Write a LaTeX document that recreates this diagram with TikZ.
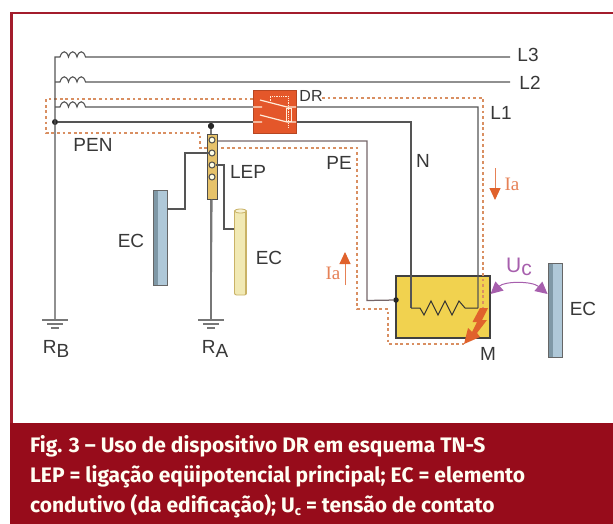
\documentclass[tikz,border=0pt]{standalone}
\usepackage{fontspec}
\setmainfont{Liberation Sans}
\newfontfamily\capfont{Fira Sans}
\newfontfamily\serfont{Liberation Serif}
\usetikzlibrary{arrows.meta,calc}
\definecolor{framered}{HTML}{A31C2C}
\definecolor{capred}{HTML}{970C1B}
\definecolor{wire}{HTML}{555555}
\definecolor{pewire}{HTML}{756669}
\definecolor{orangeE}{HTML}{E0622C}
\definecolor{dotline}{HTML}{D98F62}
\definecolor{drbox}{HTML}{E4572A}
\definecolor{motor}{HTML}{F1D24F}
\definecolor{steel}{HTML}{AFC8D8}
\definecolor{steeldark}{HTML}{7F98A6}
\definecolor{lepfill}{HTML}{E6C26A}
\definecolor{tube}{HTML}{F1E9B4}
\definecolor{tubedark}{HTML}{C9B266}
\definecolor{purp}{HTML}{A75FAD}
\definecolor{ink}{HTML}{383838}
\tikzset{
  x=1pt,y=-1pt,
  wireline/.style={draw=wire,line width=1.1pt},
  gnd/.style={draw=wire!80,line width=1.2pt},
  fault/.style={draw=dotline,line width=2.2pt,dash pattern=on 2.8pt off 2.8pt},
  lab/.style={text=ink,font=\fontsize{19}{19}\selectfont,inner sep=0pt},
  smalllab/.style={text=ink,font=\fontsize{16}{16}\selectfont,inner sep=0pt},
  curlab/.style={text=orangeE!80!white,font=\serfont\fontsize{19}{19}\selectfont,inner sep=0pt},
  dotnode/.style={circle,fill=black!85,inner sep=0pt,minimum size=6pt},
  hole/.style={circle,draw=black!70,fill=white!90!yellow,line width=1pt,inner sep=0pt,minimum size=6pt},
  caption/.style={text=white!95!yellow,font=\capfont\bfseries\fontsize{21}{30}\selectfont,inner sep=0pt,anchor=base west},
  curarrow/.style={draw=orangeE!80!white,line width=1pt,-{Triangle[length=12pt,width=11pt,color=orangeE]}},
}
\newcommand{\coilpath}{.. controls +(2,-7) and +(-2,-7) .. ++(8.5,0) .. controls +(2,-7) and +(-2,-7) .. ++(8.5,0) .. controls +(2,-7) and +(-2,-7) .. ++(8.5,0)}
\begin{document}
\begin{tikzpicture}
\useasboundingbox (0,0) rectangle (613,524);
\fill[white] (0,0) rectangle (613,524);
% frame
\draw[framered,line width=2.4pt] (11.5,424) -- (11.5,13) -- (613,13);
\fill[capred] (10,423) rectangle (613,524);
\node[caption] (cap1) at (30,452) {Fig. 3 – Uso de dispositivo DR em esquema TN-S};
\node[caption] (cap2) at (30,482) {LEP = ligação eqüipotencial principal; EC = elemento};
\node[caption] (cap3) at (30,512) {condutivo (da edificação); U\raisebox{-3pt}{\fontsize{13}{13}\selectfont c} = tensão de contato};

% coordinates
\coordinate (top) at (55,57);
\coordinate (gB) at (55,320);
\coordinate (gA) at (211,320);
\coordinate (l3end) at (510,57);
\coordinate (l2end) at (510,82);
\node[dotnode] (pen) at (55,122) {};
\node[dotnode] (lepdot) at (211,126) {};

% motor box
\node[draw=black!75,fill=motor,line width=1.1pt,minimum width=94pt,minimum height=62pt,inner sep=0pt] (mbox) at (443,307) {};

% fault path
\coordinate (fa) at (253,99);
\draw[fault] (fa) -- (46,99) -- (46,133) -- (200,133) -- (200,148) -- (357,148) -- (357,309) -- (388,309) -- (388,344) -- (464,344);
\draw[fault] (322,98) -- (483,98) -- (483,308);

% wires
\draw[wireline] (gB) -- (top) -- ++(5,0) \coilpath -- (l3end);
\draw[wireline] (55,82) -- ++(5,0) \coilpath -- (l2end);
\coordinate (rL) at (478,308);
\coordinate (rN) at (411,308);
\draw[wireline] (55,107) -- ++(5,0) \coilpath -- (478,107) -- (rL);
\draw[wireline] (pen) -- (411,122) -- (rN);
\draw[draw=black!80,line width=1pt] (rN) -- (420,308) -- (424,315) -- (431,301) -- (438,315) -- (445,301) -- (452,315) -- (459,301) -- (465,308) -- (rL);
\node[dotnode,minimum size=5.5pt] (mdot) at (396,300) {};
\draw[draw=pewire,line width=1.25pt] (212,141) -- (367,141) -- (367,300.5) -- (mdot);
\draw[gnd] (lepdot) -- (gA);

% LEP bar
\node[draw=black!70,fill=lepfill,line width=1pt,minimum width=10pt,minimum height=64pt,inner sep=0pt] (lep) at (212,167) {};
\node[hole] (h1) at (212,140) {};
\node[hole] (h2) at (212,153) {};
\node[hole] (h3) at (212,165) {};
\node[hole] (h4) at (212,177) {};
\draw[gnd] (lep.south) -- (gA);
\node[dotnode] at (lepdot) {};

% EC elements
\node[draw=black!60,fill=steel,line width=.8pt,minimum width=14pt,minimum height=95pt,inner sep=0pt] (ecL) at (160,237.5) {};
\fill[steeldark] (153.5,190.5) rectangle (158,285);
\node[draw=tubedark,fill=tube,line width=.9pt,minimum width=12pt,minimum height=85pt,inner sep=0pt,rounded corners=2pt] (ecT) at (240.5,252.5) {};
\fill[tubedark] (244.5,212) rectangle (247,294);
\draw[draw=tubedark,fill=tube!60!white,line width=.8pt] (240.5,211) ellipse [x radius=6,y radius=2];
\node[draw=black!60,fill=steel,line width=.8pt,minimum width=14pt,minimum height=94pt,inner sep=0pt] (ecR) at (555,310) {};
\fill[steeldark] (548.5,263.5) rectangle (553,357);
\draw[wireline] (h2) -- (185,153) -- (185,209) -- (ecL.east |- 0,209);
\draw[wireline] (h3) -- (224,165) -- (224,229) -- (ecT.west |- 0,229);

% grounds
\foreach \g/\n in {gB/b,gA/a}{
  \draw[gnd] ($(\g)+(-13,0)$) -- ($(\g)+(13,0)$);
  \draw[gnd] ($(\g)+(-8,4)$) -- ($(\g)+(8,4)$);
  \draw[gnd] ($(\g)+(-4,8)$) -- ($(\g)+(4,8)$);
}

% DR
\node[fill=drbox,draw=drbox!80!black,line width=.6pt,minimum width=43pt,minimum height=43pt,inner sep=0pt] (dr) at (274.5,111.5) {};
\draw[white!85!orange,line width=1.2pt]
  (253,107) -- (262,107) (260,100) -- (287,107) (253,122) -- (262,122) (260,115) -- (287,122)
  (287,107) -- (296,107) (287,122) -- (296,122);
\draw[white!85!orange,line width=.8pt,densely dotted] (270,103) -- (270,96) -- (288,96) -- (288,128);
\draw[white!85!orange,line width=.9pt] (286,108) rectangle (291,121);

% lightning
\fill[orangeE] (480,308) -- (488,308) -- (482,320) -- (487,320) -- (477,333) -- (480,337) -- (464,344) -- (468,328) -- (472,332) -- (477,322) -- (472.5,322) -- cycle;

% labels
\node[lab] (lL3) at (528,55) {L3};
\node[lab] (lL2) at (530,83) {L2};
\node[lab] (lL1) at (501,113) {L1};
\node[lab] (lPEN) at (93,145) {PEN};
\node[smalllab] (lDR) at (311,96) {DR};
\node[lab] (lLEP) at (248,172) {LEP};
\node[lab] (lPE) at (339,163) {PE};
\node[lab] (lN) at (423,161) {N};
\node[lab] (lEC1) at (131,241) {EC};
\node[lab] (lEC2) at (269,258) {EC};
\node[lab] (lEC3) at (583,309) {EC};
\node[lab] (lM) at (488,354) {M};
\node[lab,anchor=base] (lRB) at (56,353) {R\raisebox{-4pt}{B}};
\node[lab,anchor=base] (lRA) at (215,353) {R\raisebox{-4pt}{A}};
\node[curlab] (lIa1) at (512,184) {Ia};
\node[curlab] (lIa2) at (333,273) {Ia};
\coordinate (ia1a) at (495,168); \coordinate (ia1b) at (495,200);
\coordinate (ia2a) at (345,285); \coordinate (ia2b) at (345,252);
\draw[curarrow] (ia1a) -- (ia1b);
\draw[curarrow] (ia2a) -- (ia2b);

% contact voltage
\node[lab,text=purp,font=\fontsize{21}{21}\selectfont] (lUc) at (519,267) {U\raisebox{-3pt}{c}};
\draw[draw=purp,line width=1pt,{Triangle[length=12pt,width=12pt]}-{Triangle[length=12pt,width=12pt]}] (mbox.east |- 0,294) .. controls (505,281) and (532,281) .. (ecR.west |- 0,294);
\end{tikzpicture}
\end{document}
